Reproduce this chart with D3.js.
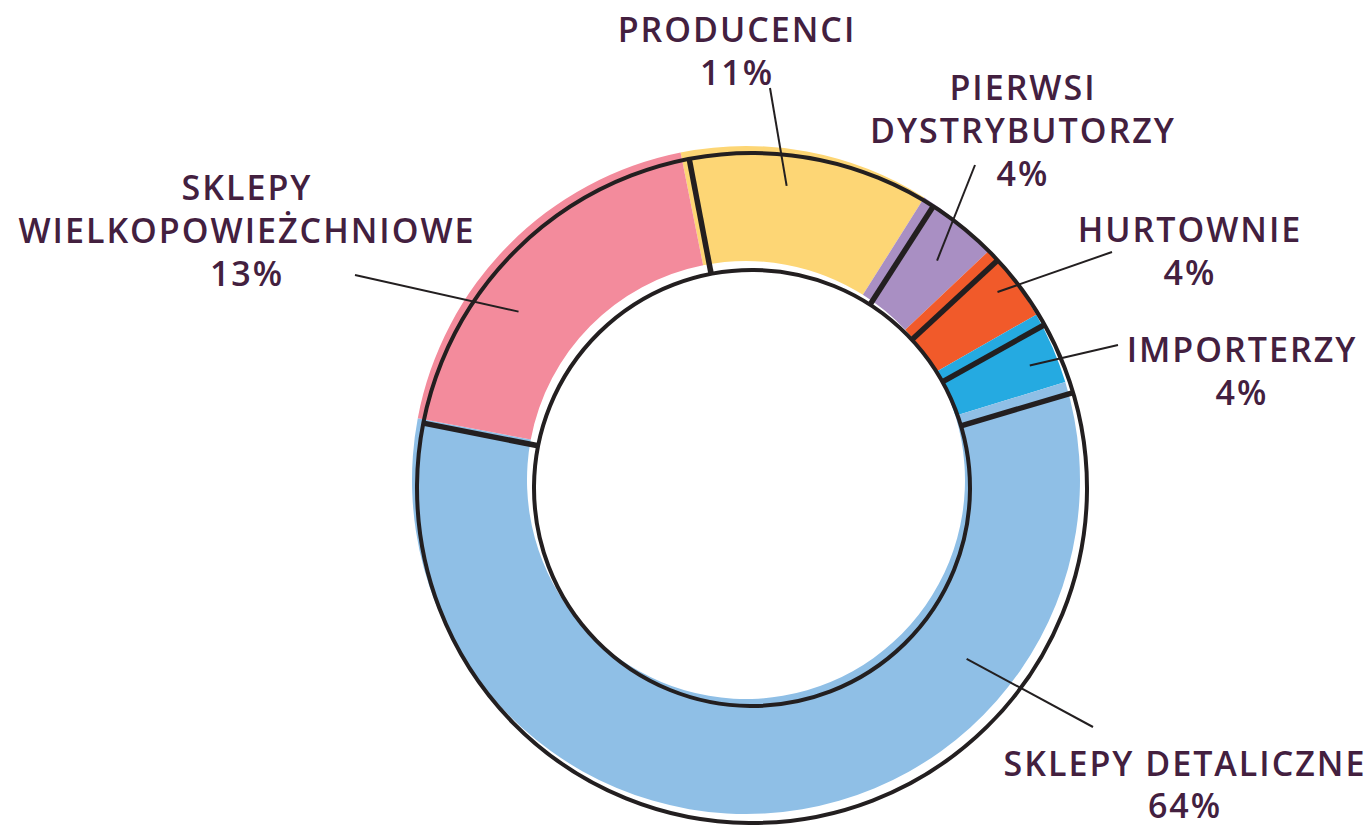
<!DOCTYPE html>
<html>
<head>
<meta charset="utf-8">
<script src="https://cdn.jsdelivr.net/npm/d3@7"></script>
<style>
  body { margin: 0; background: #fff; }
  svg { display: block; }
</style>
</head>
<body>
<div id="chart"></div>
<script>
// data (slice shares as drawn, labels as printed)
var categories = ["PRODUCENCI", "PIERWSI DYSTRYBUTORZY", "HURTOWNIE", "IMPORTERZY", "SKLEPY DETALICZNE", "SKLEPY WIELKOPOWIEŻCHNIOWE"];
var nameLines = [["PRODUCENCI"], ["PIERWSI", "DYSTRYBUTORZY"], ["HURTOWNIE"], ["IMPORTERZY"], ["SKLEPY DETALICZNE"], ["SKLEPY", "WIELKOPOWIEŻCHNIOWE"]];
var shares = [12.1, 4.0, 3.8, 3.5, 57.7, 18.9];
var pctLabels = ["11%", "4%", "4%", "4%", "64%", "13%"];

var colors = ["#fdd675", "#a98fc3", "#f15a2a", "#25aae1", "#8fbfe6", "#f38b9c"];

// label placement: text centre x, first baseline y, line gap, leader start, and where the leader ends on the slice
var labelLayout = [
    {x: 737, y: 42, gap: 43, lx: 770, ly: 88, t: 0.44, r: 297},
    {x: 1023, y: 100, gap: 43, lx: 975, ly: 165, t: 0.61, r: 291},
    {x: 1190, y: 242, gap: 43, lx: 1112, ly: 252, t: 0.48, r: 314},
    {x: 1242, y: 362, gap: 43, lx: 1118, ly: 345, t: 0.61, r: 306},
    {x: 1185, y: 776, gap: 42, lx: 1093, ly: 727, t: 0.27, r: 284},
    {x: 247, y: 200, gap: 43, lx: 355, ly: 275, t: 0.38, r: 283}
];

var width = 1371, height = 829;
var fillCenter = [746, 480];
var lineCenter = [752, 488];
var textColor = "#43203f";

var svg = d3.select("#chart").append("svg")
    .attr("width", width)
    .attr("height", height);

var start = -11.3 * Math.PI / 180;
var pie = d3.pie().sort(null).value(function (d) { return d; })
    .startAngle(start).endAngle(start + 2 * Math.PI);
var slices = pie(shares);

var fillArc = d3.arc().innerRadius(219).outerRadius(334);

// coloured ring
var gFill = svg.append("g").attr("transform", "translate(" + fillCenter + ")");
gFill.selectAll("path")
    .data(slices)
    .enter()
    .append("path")
    .attr("d", fillArc)
    .attr("fill", function (d, i) { return colors[i]; });

// black outline ring, printed slightly off register
var rIn = 218, rOut = 335;
var gLine = svg.append("g").attr("transform", "translate(" + lineCenter + ") rotate(0.5)");
gLine.selectAll("circle")
    .data([rIn, rOut])
    .enter()
    .append("circle")
    .attr("r", function (d) { return d; })
    .attr("fill", "none")
    .attr("stroke", "#231f20")
    .attr("stroke-width", 4);

gLine.selectAll("line")
    .data(slices)
    .enter()
    .append("line")
    .attr("x1", function (d) { return rIn * Math.sin(d.startAngle); })
    .attr("y1", function (d) { return -rIn * Math.cos(d.startAngle); })
    .attr("x2", function (d) { return rOut * Math.sin(d.startAngle); })
    .attr("y2", function (d) { return -rOut * Math.cos(d.startAngle); })
    .attr("stroke", "#231f20")
    .attr("stroke-width", 5.5);

// leader lines
svg.selectAll(".leader")
    .data(slices)
    .enter()
    .append("line")
    .attr("class", "leader")
    .attr("x1", function (d, i) { return labelLayout[i].lx; })
    .attr("y1", function (d, i) { return labelLayout[i].ly; })
    .attr("x2", function (d, i) {
        var L = labelLayout[i];
        var a = d.startAngle + L.t * (d.endAngle - d.startAngle);
        return fillCenter[0] + L.r * Math.sin(a);
    })
    .attr("y2", function (d, i) {
        var L = labelLayout[i];
        var a = d.startAngle + L.t * (d.endAngle - d.startAngle);
        return fillCenter[1] - L.r * Math.cos(a);
    })
    .attr("stroke", "#231f20")
    .attr("stroke-width", 2);

// labels: name lines then the percentage, as tspans of one text
var labels = svg.selectAll(".label")
    .data(categories)
    .enter()
    .append("text")
    .attr("class", "label")
    .attr("text-anchor", "middle")
    .attr("font-family", "Open Sans, sans-serif")
    .attr("font-weight", 600)
    .attr("font-size", 34)
    .attr("letter-spacing", 2)
    .attr("fill", textColor)
    .attr("x", function (d, i) { return labelLayout[i].x; })
    .attr("y", function (d, i) { return labelLayout[i].y; });

labels.each(function (d, i) {
    var t = d3.select(this);
    var lines = nameLines[i].concat([pctLabels[i]]);
    lines.forEach(function (s, k) {
        t.append("tspan")
            .attr("x", labelLayout[i].x)
            .attr("dy", k === 0 ? 0 : labelLayout[i].gap)
            .text(s);
    });
});
</script>
</body>
</html>
